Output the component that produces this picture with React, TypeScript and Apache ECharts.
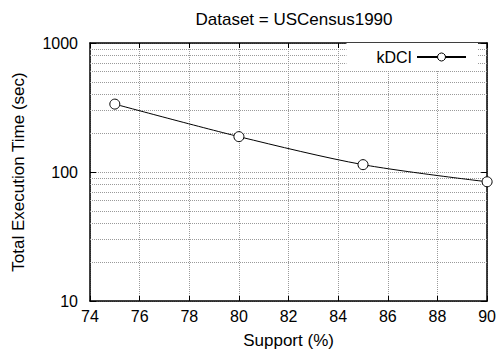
import React, { useEffect, useRef } from "react";
import * as echarts from "echarts";

const supports = [75, 80, 85, 90];
const kdciTimes = [336, 188, 114, 84];
const minorGridValues = [20, 30, 40, 50, 60, 70, 80, 90, 200, 300, 400, 500, 600, 700, 800, 900];

const FONT = "Liberation Sans, Arial, Helvetica, sans-serif";
const GRID_COLOR = "#9a9a9a";

export default function App() {
  const ref = useRef<HTMLDivElement>(null);
  useEffect(() => {
    if (!ref.current) return;
    const chart = echarts.init(ref.current, null, { renderer: "svg" });
    const gridLine = { show: true, lineStyle: { color: GRID_COLOR, width: 1, type: "dotted" as const } };
    chart.setOption({
      animation: false,
      backgroundColor: "#ffffff",
      textStyle: { fontFamily: FONT, color: "#000" },
      title: {
        text: "Dataset = USCensus1990",
        left: 289,
        textAlign: "center",
        top: 6,
        textStyle: { fontFamily: FONT, fontSize: 17, fontWeight: "normal", color: "#000" },
      },
      legend: {
        right: 21,
        top: 43,
        align: "right",
        padding: [6, 11, 6, 30],
        itemWidth: 49,
        itemHeight: 10,
        backgroundColor: "#ffffff",
        itemStyle: { color: "#ffffff", borderColor: "#000", borderWidth: 1 },
        textStyle: { fontFamily: FONT, fontSize: 16, color: "#000" },
        data: ["kDCI"],
      },
      grid: { left: 90, right: 11, top: 43, bottom: 53, containLabel: false },
      xAxis: [
        {
          type: "value",
          min: 74,
          max: 90,
          interval: 2,
          name: "Support (%)",
          nameLocation: "middle",
          nameGap: 31,
          nameTextStyle: { fontFamily: FONT, fontSize: 17, color: "#000" },
          axisLine: { show: true, onZero: false, lineStyle: { color: "#000", width: 1.5 } },
          axisTick: { show: true, inside: true, length: 5, lineStyle: { color: "#000" } },
          axisLabel: { fontFamily: FONT, fontSize: 16, color: "#000", margin: 7 },
          splitLine: gridLine,
        },
        {
          type: "value",
          position: "top",
          min: 74,
          max: 90,
          interval: 2,
          axisLine: { show: true, onZero: false, lineStyle: { color: "#000", width: 1.5 } },
          axisTick: { show: true, inside: true, length: 5, lineStyle: { color: "#000" } },
          axisLabel: { show: false },
          splitLine: { show: false },
        },
      ],
      yAxis: [
        {
          type: "log",
          logBase: 10,
          min: 10,
          max: 1000,
          name: "Total Execution Time (sec)",
          nameLocation: "middle",
          nameGap: 63,
          nameTextStyle: { fontFamily: FONT, fontSize: 17, color: "#000" },
          axisLine: { show: true, onZero: false, lineStyle: { color: "#000", width: 1.5 } },
          axisTick: { show: true, inside: true, length: 6, lineStyle: { color: "#000" } },
          axisLabel: {
            fontFamily: FONT,
            fontSize: 16,
            color: "#000",
            margin: 12,
            formatter: (v: number) => String(Math.round(v)),
          },
          splitLine: gridLine,
        },
        {
          type: "log",
          logBase: 10,
          min: 10,
          max: 1000,
          position: "right",
          axisLine: { show: true, onZero: false, lineStyle: { color: "#000", width: 1.5 } },
          axisTick: { show: true, inside: true, length: 6, lineStyle: { color: "#000" } },
          axisLabel: { show: false },
          splitLine: { show: false },
        },
      ],
      series: [
        {
          name: "kDCI",
          type: "line",
          xAxisIndex: 0,
          yAxisIndex: 0,
          data: supports.map((s, i) => [s, kdciTimes[i]]),
          smooth: 0.3,
          symbol: "circle",
          symbolSize: 10,
          showSymbol: true,
          itemStyle: { color: "#ffffff", borderColor: "#000", borderWidth: 1 },
          lineStyle: { color: "#000", width: 1 },
          z: 5,
          markLine: {
            silent: true,
            symbol: ["none", "none"],
            label: { show: false },
            lineStyle: { color: GRID_COLOR, width: 1, type: "dotted" },
            emphasis: { disabled: true },
            data: minorGridValues.map((v) => ({ yAxis: v })),
            z: 1,
          },
        },
      ],
    });
    return () => chart.dispose();
  }, []);
  return (
    <div
      ref={ref}
      style={{ position: "fixed", left: 0, top: 0, width: 499, height: 354 }}
    />
  );
}
